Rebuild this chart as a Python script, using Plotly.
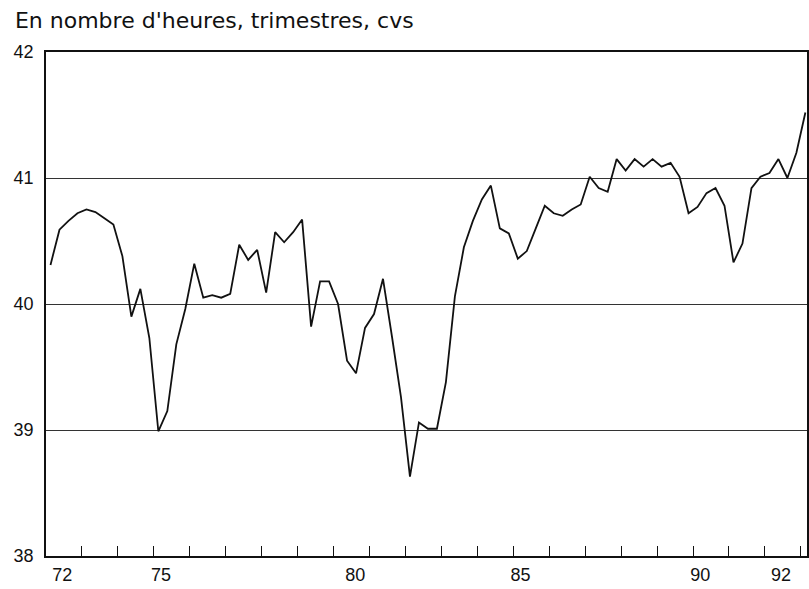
#Durée hebdomadaire du travail - courbe trimestrielle cvs

import plotly.graph_objects as go

#data (trimestres 1972T1 -> 1993T1, en heures)
heures = [40.31, 40.59, 40.66, 40.72,
          40.75, 40.73, 40.68, 40.63,
          40.38, 39.90, 40.12, 39.73,
          38.99, 39.15, 39.68, 39.96,
          40.32, 40.05, 40.07, 40.05,
          40.08, 40.47, 40.35, 40.43,
          40.09, 40.57, 40.49, 40.57,
          40.67, 39.82, 40.18, 40.18,
          40.00, 39.55, 39.45, 39.81,
          39.92, 40.20, 39.74, 39.26,
          38.63, 39.06, 39.01, 39.01,
          39.38, 40.06, 40.45, 40.66,
          40.83, 40.94, 40.60, 40.56,
          40.36, 40.42, 40.60, 40.78,
          40.72, 40.70, 40.75, 40.79,
          41.01, 40.92, 40.89, 41.15,
          41.06, 41.15, 41.09, 41.15,
          41.09, 41.12, 41.01, 40.72,
          40.77, 40.88, 40.92, 40.78,
          40.33, 40.48, 40.92, 41.01,
          41.04, 41.15, 41.00, 41.20,
          41.52]
annee_debut = 1972

#tick labels (placed roughly under each year, as in the print)
label_pos  = [1972.45, 1975.2, 1980.6, 1985.2, 1990.2, 1992.45]
label_text = ["72", "75", "80", "85", "90", "92"]
annees_ticks = list(range(1973, 1994))
y_ticks = [38, 39, 40, 41, 42]

titre = "En nombre d'heures, trimestres, cvs"

#x position of each quarter = middle of the quarter
x = [annee_debut + (i + 0.5) / 4 for i in range(len(heures))]

fig = go.Figure()
fig.add_trace(go.Scatter(x=x, y=heures, mode="lines",
                         line=dict(color="#111111", width=1.8),
                         hoverinfo="skip"))

tick_font = dict(family="Liberation Sans, Arial, sans-serif", size=18, color="#111111")

fig.update_layout(
    width=809, height=589,
    margin=dict(l=46, r=2, t=52, b=33, autoexpand=False),
    plot_bgcolor="white", paper_bgcolor="white",
    showlegend=False,
    title=dict(text=titre, x=0.0185, xanchor="left", y=0.966, yanchor="middle",
               font=dict(family="DejaVu Sans, sans-serif", size=22, color="#111111")),
)

#x-axis
fig.update_xaxes(
    range=[1972, 1993.17], automargin=False,
    tickmode="array", tickvals=label_pos, ticktext=label_text,
    ticks="", ticklabelstandoff=2,
    tickfont=tick_font,
    showgrid=False, zeroline=False,
    showline=True, linecolor="#111111", linewidth=1.5, mirror=True,
    minor=dict(tickmode="array", tickvals=annees_ticks, ticks="inside",
               ticklen=10, tickwidth=1.2, tickcolor="#111111", showgrid=False))

#y-axis
fig.update_yaxes(
    range=[38, 42], automargin=False,
    tickmode="array", tickvals=y_ticks, ticktext=[str(v) for v in y_ticks],
    ticks="", ticklabelstandoff=7,
    tickfont=tick_font,
    showgrid=True, gridcolor="#333333", gridwidth=1,
    zeroline=False,
    showline=True, linecolor="#111111", linewidth=1.5, mirror=True)

#drop the default page margin so the figure fills the window
fig.write_html("out.html",
               config={"displayModeBar": False},
               post_script="document.body.style.margin='0px';document.body.style.overflow='hidden';")
